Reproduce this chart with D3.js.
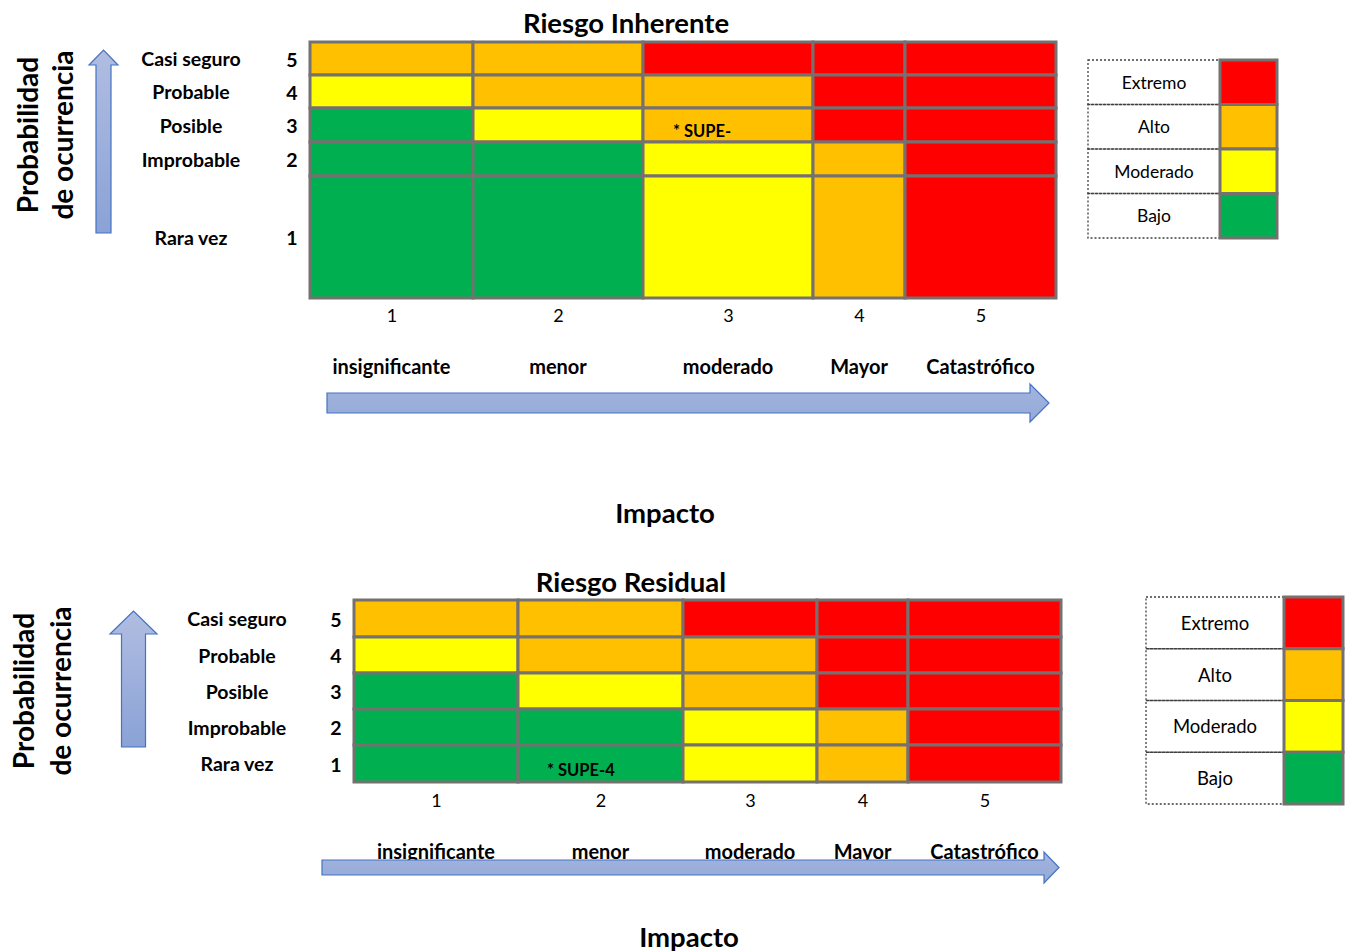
<!DOCTYPE html>
<html>
<head>
<meta charset="utf-8">
<script src="https://cdn.jsdelivr.net/npm/d3@7"></script>
<style>
  body { margin: 0; background: #fff; }
  svg { display: block; }
  text { font-family: Lato, "Open Sans", "Liberation Sans", sans-serif; fill: #000; }
</style>
</head>
<body>
<svg id="chart" width="1348" height="951"></svg>
<script>
// ---- data ----
const impactCodes = [1, 2, 3, 4, 5];
const impactNames = ["insignificante", "menor", "moderado", "Mayor", "Catastrófico"];
const probCodes = [5, 4, 3, 2, 1];
const probNames = ["Casi seguro", "Probable", "Posible", "Improbable", "Rara vez"];
const levelNames = ["Extremo", "Alto", "Moderado", "Bajo"];
const levelColors = ["#FF0000", "#FFC000", "#FFFF00", "#00B050"];

// rows: probability 5 → 1; columns: impact 1 → 5
const inherentLevels = [
  ["Alto", "Alto", "Extremo", "Extremo", "Extremo"],
  ["Moderado", "Alto", "Alto", "Extremo", "Extremo"],
  ["Bajo", "Moderado", "Alto", "Extremo", "Extremo"],
  ["Bajo", "Bajo", "Moderado", "Alto", "Extremo"],
  ["Bajo", "Bajo", "Moderado", "Alto", "Extremo"]
];
const residualLevels = [
  ["Alto", "Alto", "Extremo", "Extremo", "Extremo"],
  ["Moderado", "Alto", "Alto", "Extremo", "Extremo"],
  ["Bajo", "Moderado", "Alto", "Extremo", "Extremo"],
  ["Bajo", "Bajo", "Moderado", "Alto", "Extremo"],
  ["Bajo", "Bajo", "Moderado", "Alto", "Extremo"]
];
const inherentNote = { impact: 3, prob: 3, text: "* SUPE-" };
const residualNote = { impact: 2, prob: 1, text: "* SUPE-4" };

// ---- layout ----
const panels = [
  {
    title: "Riesgo Inherente", titleX: 626, titleY: 22,
    levels: inherentLevels, note: inherentNote,
    colEdges: [310, 473, 643, 813, 905, 1056],
    rowEdges: [42, 75, 108, 142, 176, 298],
    rowNameX: 191, rowCodeX: 292, rowFont: 19.5,
    tickY: 315, tickFont: 18,
    nameY: 366, nameBaseline: "central", nameFont: 20,
    hArrow: { x0: 327, x1: 1049, y: 403, shaft: 20, head: 38, headLen: 19 },
    vArrow: { x: 103.5, y0: 50, y1: 233, shaft: 15, head: 29, headLen: 15 },
    yTitleX: [27, 62], yTitleY: 135, yTitleFont: 28,
    impactX: 665, impactY: 512,
    legend: { x0: 1088, x1: 1220, x2: 1277, y0: 60, y1: 238, font: 17.5 },
    noteDx: 30, noteDy: 5, noteFont: 16.5
  },
  {
    title: "Riesgo Residual", titleX: 631, titleY: 581,
    levels: residualLevels, note: residualNote,
    colEdges: [354, 518, 683, 817, 908, 1061],
    rowEdges: [600, 637, 673, 709, 745, 782],
    rowNameX: 237, rowCodeX: 336, rowFont: 19.5,
    tickY: 800, tickFont: 18,
    nameY: 859, nameBaseline: "alphabetic", nameFont: 20,
    hArrow: { x0: 322, x1: 1059, y: 867.5, shaft: 15, head: 31, headLen: 15 },
    vArrow: { x: 133.5, y0: 611, y1: 747, shaft: 24, head: 47, headLen: 23 },
    yTitleX: [23, 60], yTitleY: 691, yTitleFont: 28,
    impactX: 689, impactY: 936,
    legend: { x0: 1146, x1: 1284, x2: 1343, y0: 597, y1: 804, font: 18.5 },
    noteDx: 29, noteDy: 6, noteFont: 16.5
  }
];

const svg = d3.select("#chart");
const colorOf = d3.scaleOrdinal().domain(levelNames).range(levelColors);
const gridColor = "#767171";

// gradients used by the blue arrows
const defs = svg.append("defs");
const grad = defs.append("linearGradient").attr("id", "arrowFill")
  .attr("x1", 0).attr("y1", 0).attr("x2", 0).attr("y2", 1);
grad.append("stop").attr("offset", "0%").attr("stop-color", "#b1bde1");
grad.append("stop").attr("offset", "100%").attr("stop-color", "#8aa2d6");
const gradH = defs.append("linearGradient").attr("id", "arrowFillH")
  .attr("x1", 0).attr("y1", 0).attr("x2", 0).attr("y2", 1);
gradH.append("stop").attr("offset", "0%").attr("stop-color", "#a3b4de");
gradH.append("stop").attr("offset", "100%").attr("stop-color", "#94aad9");

function arrowPath(points) {
  return points.map((pt, i) => (i ? "L" : "M") + pt[0] + "," + pt[1]).join("") + "Z";
}

panels.forEach(p => {
  const g = svg.append("g");

  // piecewise scales: each category spans its own band
  const x = d3.scaleLinear()
    .domain(impactCodes.map(c => c - 0.5).concat([impactCodes[impactCodes.length - 1] + 0.5]))
    .range(p.colEdges);
  const y = d3.scaleLinear()
    .domain(probCodes.map(c => c + 0.5).concat([probCodes[probCodes.length - 1] - 0.5]))
    .range(p.rowEdges);

  // title
  g.append("text").attr("x", p.titleX).attr("y", p.titleY)
    .attr("text-anchor", "middle").attr("dominant-baseline", "central")
    .attr("font-size", 27.5).attr("font-weight", 700).text(p.title);

  // cells
  const cells = [];
  probCodes.forEach((pr, i) => impactCodes.forEach((im, j) => {
    cells.push({ prob: pr, impact: im, level: p.levels[i][j] });
  }));
  g.selectAll("rect.cell").data(cells).join("rect")
    .attr("class", "cell")
    .attr("x", d => x(d.impact - 0.5))
    .attr("y", d => y(d.prob + 0.5))
    .attr("width", d => x(d.impact + 0.5) - x(d.impact - 0.5))
    .attr("height", d => y(d.prob - 0.5) - y(d.prob + 0.5))
    .attr("fill", d => colorOf(d.level))
    .attr("stroke", gridColor).attr("stroke-width", 3);

  // note inside a cell
  g.append("text")
    .attr("x", x(p.note.impact - 0.5) + p.noteDx)
    .attr("y", y(p.note.prob - 0.5) - p.noteDy)
    .attr("font-size", p.noteFont).attr("font-weight", 700).text(p.note.text);

  // impact codes (bottom axis)
  const xAxis = g.append("g").attr("transform", `translate(0,${p.tickY})`)
    .call(d3.axisBottom(x).tickValues(impactCodes).tickFormat(d3.format("d"))
      .tickSize(0).tickPadding(0));
  xAxis.select(".domain").remove();
  xAxis.selectAll("text").attr("dy", null).attr("y", 0)
    .attr("dominant-baseline", "central")
    .attr("font-size", p.tickFont).attr("font-family", null).attr("fill", "#000");

  // impact names
  g.selectAll("text.impname").data(impactCodes).join("text")
    .attr("class", "impname")
    .attr("x", d => x(d)).attr("y", p.nameY)
    .attr("text-anchor", "middle").attr("dominant-baseline", p.nameBaseline)
    .attr("font-size", p.nameFont).attr("font-weight", 700)
    .text((d, i) => impactNames[i]);

  // probability codes (left axis)
  const yAxis = g.append("g").attr("transform", `translate(${p.rowCodeX + 6},0)`)
    .call(d3.axisLeft(y).tickValues(probCodes).tickFormat(d3.format("d"))
      .tickSize(0).tickPadding(0));
  yAxis.select(".domain").remove();
  yAxis.selectAll("text").attr("dy", null).attr("x", -6)
    .attr("text-anchor", "middle").attr("dominant-baseline", "central")
    .attr("font-size", p.rowFont).attr("font-weight", 700)
    .attr("font-family", null).attr("fill", "#000");

  // probability names
  g.selectAll("text.probname").data(probCodes).join("text")
    .attr("class", "probname")
    .attr("x", p.rowNameX).attr("y", d => y(d))
    .attr("text-anchor", "middle").attr("dominant-baseline", "central")
    .attr("font-size", p.rowFont).attr("font-weight", 700)
    .text((d, i) => probNames[i]);

  // vertical axis title (two lines, rotated)
  ["Probabilidad", "de ocurrencia"].forEach((t, k) => {
    g.append("text")
      .attr("transform", `translate(${p.yTitleX[k]},${p.yTitleY}) rotate(-90)`)
      .attr("text-anchor", "middle").attr("dominant-baseline", "central")
      .attr("font-size", p.yTitleFont).attr("font-weight", 700).text(t);
  });

  // upward arrow
  const v = p.vArrow;
  g.append("path")
    .attr("d", arrowPath([
      [v.x - v.shaft / 2, v.y1], [v.x - v.shaft / 2, v.y0 + v.headLen],
      [v.x - v.head / 2, v.y0 + v.headLen], [v.x, v.y0],
      [v.x + v.head / 2, v.y0 + v.headLen], [v.x + v.shaft / 2, v.y0 + v.headLen],
      [v.x + v.shaft / 2, v.y1]
    ]))
    .attr("fill", "url(#arrowFill)").attr("stroke", "#4472c4").attr("stroke-width", 1.2);

  // rightward arrow (drawn over the impact names)
  const h = p.hArrow;
  g.append("path")
    .attr("d", arrowPath([
      [h.x0, h.y - h.shaft / 2], [h.x1 - h.headLen, h.y - h.shaft / 2],
      [h.x1 - h.headLen, h.y - h.head / 2], [h.x1, h.y],
      [h.x1 - h.headLen, h.y + h.head / 2], [h.x1 - h.headLen, h.y + h.shaft / 2],
      [h.x0, h.y + h.shaft / 2]
    ]))
    .attr("fill", "url(#arrowFillH)").attr("stroke", "#4472c4").attr("stroke-width", 1.2);

  // horizontal axis title
  g.append("text").attr("x", p.impactX).attr("y", p.impactY)
    .attr("text-anchor", "middle").attr("dominant-baseline", "central")
    .attr("font-size", 27.5).attr("font-weight", 700).text("Impacto");

  // legend
  const L = p.legend;
  const ly = d3.scaleBand().domain(levelNames).range([L.y0, L.y1]);
  const lg = g.append("g");
  lg.selectAll("rect.lab").data(levelNames).join("rect")
    .attr("class", "lab")
    .attr("x", L.x0).attr("y", d => ly(d))
    .attr("width", L.x1 - L.x0).attr("height", ly.bandwidth())
    .attr("fill", "none").attr("stroke", "#404040").attr("stroke-width", 1.3)
    .attr("stroke-dasharray", "2,2");
  lg.selectAll("text.lab").data(levelNames).join("text")
    .attr("class", "lab")
    .attr("x", (L.x0 + L.x1) / 2).attr("y", d => ly(d) + ly.bandwidth() / 2)
    .attr("text-anchor", "middle").attr("dominant-baseline", "central")
    .attr("font-size", L.font).attr("fill", "#222").text(d => d);
  lg.selectAll("rect.sw").data(levelNames).join("rect")
    .attr("class", "sw")
    .attr("x", L.x1).attr("y", d => ly(d))
    .attr("width", L.x2 - L.x1).attr("height", ly.bandwidth())
    .attr("fill", d => colorOf(d))
    .attr("stroke", gridColor).attr("stroke-width", 3);
});
</script>
</body>
</html>
